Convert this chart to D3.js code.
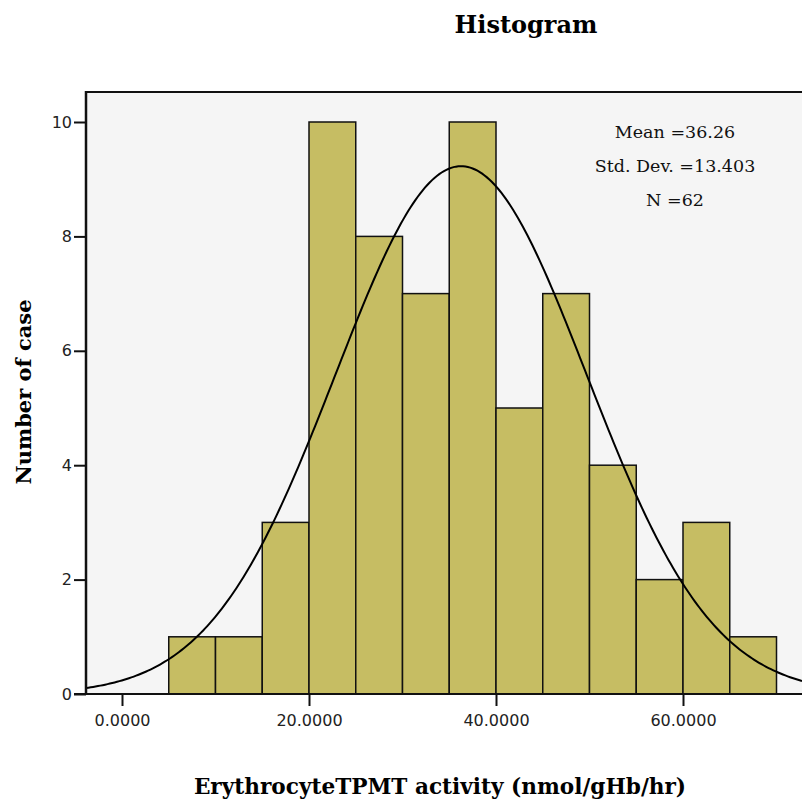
<!DOCTYPE html>
<html>
<head>
<meta charset="utf-8">
<script src="https://cdn.jsdelivr.net/npm/d3@7"></script>
<style>
  body { margin: 0; background: #fff; }
  .serif { font-family: "DejaVu Serif", "Liberation Serif", serif; }
</style>
</head>
<body>
<svg id="vis_svg" width="802" height="802"></svg>
<script>
// bin edges and counts
let binStarts = [5, 10, 15, 20, 25, 30, 35, 40, 45, 50, 55, 60, 65];
let binWidth = 5;
let binCounts = [1, 1, 3, 10, 8, 7, 10, 5, 7, 4, 2, 3, 1];
let xTicks = [0, 20, 40, 60];
let yTicks = [0, 2, 4, 6, 8, 10];
let statLines = ['Mean =36.26', 'Std. Dev. =13.403', 'N =62'];
let mean = 36.26;
let sd = 13.403;
let n = 62;

let svg = d3.select('svg#vis_svg');

let plotLeft = 86, plotRight = 802, plotTop = 92, plotBottom = 694;

let x = d3.scaleLinear().domain([0, 60]).range([122, 683]);
let y = d3.scaleLinear().domain([0, 10]).range([694, 122]);

// plot background
svg.append('defs').append('clipPath').attr('id', 'clip')
    .append('rect')
    .attr('x', plotLeft).attr('y', plotTop)
    .attr('width', plotRight - plotLeft).attr('height', plotBottom - plotTop);

svg.append('rect')
    .attr('x', plotLeft).attr('y', plotTop)
    .attr('width', plotRight - plotLeft).attr('height', plotBottom - plotTop)
    .style('fill', '#f5f5f5');

// bars
let bins = binStarts.map((s, i) => ({x0: s, x1: s + binWidth, count: binCounts[i]}));
svg.append('g').selectAll('rect')
    .data(bins)
    .enter()
    .append('rect')
    .attr('x', d => x(d.x0))
    .attr('y', d => y(d.count))
    .attr('width', d => x(d.x1) - x(d.x0))
    .attr('height', d => y(0) - y(d.count))
    .style('fill', '#c6bd63')
    .style('stroke', '#111')
    .style('stroke-width', 1.5);

// normal curve
let xMin = x.invert(plotLeft), xMax = x.invert(plotRight);
let curvePts = d3.range(0, 301).map(i => {
    let v = xMin + (xMax - xMin) * i / 300;
    let z = (v - mean) / sd;
    return {v: v, c: n * binWidth / (sd * Math.sqrt(2 * Math.PI)) * Math.exp(-0.5 * z * z)};
});
svg.append('path')
    .datum(curvePts)
    .attr('clip-path', 'url(#clip)')
    .attr('d', d3.line().x(d => x(d.v)).y(d => y(d.c)).curve(d3.curveLinear))
    .style('fill', 'none')
    .style('stroke', '#000')
    .style('stroke-width', 2);

// frame: top line
svg.append('line')
    .attr('x1', plotLeft).attr('x2', plotRight)
    .attr('y1', plotTop).attr('y2', plotTop)
    .style('stroke', '#111').style('stroke-width', 2);

// axes
let xAxis = svg.append('g')
    .attr('transform', 'translate(0,' + plotBottom + ')')
    .call(d3.axisBottom(x).tickValues(xTicks).tickFormat(d3.format('.4f')).tickSize(12).tickPadding(9));
xAxis.select('.domain').remove();
xAxis.selectAll('.tick line').style('stroke', '#111').style('stroke-width', 2);
svg.append('line')
    .attr('x1', plotLeft - 12).attr('x2', plotRight)
    .attr('y1', plotBottom).attr('y2', plotBottom)
    .style('stroke', '#111').style('stroke-width', 2);

let yAxis = svg.append('g')
    .attr('transform', 'translate(' + plotLeft + ',0)')
    .call(d3.axisLeft(y).tickValues(yTicks).tickSize(12).tickPadding(2));
yAxis.select('.domain').remove();
yAxis.selectAll('.tick line').style('stroke', '#111').style('stroke-width', 2);
svg.append('line')
    .attr('x1', plotLeft).attr('x2', plotLeft)
    .attr('y1', plotTop - 1).attr('y2', plotBottom)
    .style('stroke', '#111').style('stroke-width', 2.5);

svg.selectAll('.tick text')
    .style('font-family', '"DejaVu Sans", "Liberation Sans", sans-serif')
    .style('font-size', '16px')
    .style('fill', '#222');

// stats box
svg.append('g').selectAll('text')
    .data(statLines)
    .enter()
    .append('text')
    .attr('class', 'serif')
    .attr('x', 675)
    .attr('y', (d, i) => 138 + i * 34)
    .attr('text-anchor', 'middle')
    .style('font-size', '17.5px')
    .style('fill', '#111')
    .text(d => d);

// titles
svg.append('text')
    .attr('class', 'serif')
    .attr('x', 526).attr('y', 33)
    .attr('text-anchor', 'middle')
    .style('font-size', '24px').style('font-weight', 'bold')
    .text('Histogram');

svg.append('text')
    .attr('class', 'serif')
    .attr('x', 440).attr('y', 794)
    .attr('text-anchor', 'middle')
    .style('font-size', '21.6px').style('font-weight', 'bold')
    .text('ErythrocyteTPMT activity (nmol/gHb/hr)');

svg.append('text')
    .attr('class', 'serif')
    .attr('transform', 'translate(31,392) rotate(-90)')
    .attr('text-anchor', 'middle')
    .style('font-size', '21px').style('font-weight', 'bold')
    .text('Number of case');
</script>
</body>
</html>
